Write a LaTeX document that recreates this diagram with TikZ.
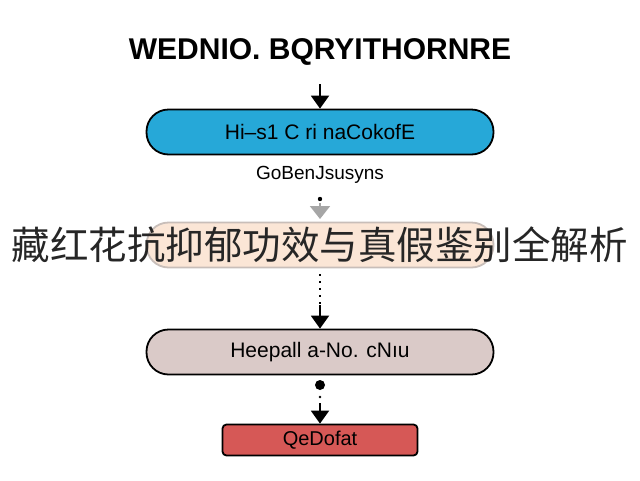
\documentclass[tikz,border=0pt]{standalone}
\usepackage{fontspec}
\setmainfont{Liberation Sans}
\newfontfamily\cjk{Noto Sans CJK SC}
\usetikzlibrary{arrows.meta}
\begin{document}
\begin{tikzpicture}[x=1pt,y=-1pt,
  pill/.style={draw=black,line width=1.8pt,rounded corners=22pt,minimum width=347pt,minimum height=45pt,font=\fontsize{21}{21}\selectfont},
  arr/.style={-{Triangle[width=18pt,length=13pt]},line width=2pt}]
\useasboundingbox[fill=white] (0,0) rectangle (640,480);
\node[font=\bfseries\fontsize{30}{30}\selectfont] (title) at (320,52) {WEDNIO. BQRYITHORNRE};
\node[pill,fill={rgb,255:red,38;green,168;blue,216}] (b1) at (320,132) {Hi–s1 C ri naCokofE};
\node[font=\fontsize{19}{19}\selectfont] (lab) at (320,175) {GoBenJsusyns};
\node[pill,draw={rgb,255:red,200;green,190;blue,185},fill={rgb,255:red,251;green,230;blue,214}] (b2) at (320,245) {};
\node[pill,fill={rgb,255:red,218;green,202;blue,200}] (b3) at (320,352) {Heepall a-No. cNıu};
\node[draw=black,line width=1.8pt,rounded corners=4pt,minimum width=195pt,minimum height=31pt,fill={rgb,255:red,214;green,88;blue,86},font=\fontsize{20}{20}\selectfont] (b4) at (320,440) {QeDofat};
\coordinate (t1) at (320,84);
\draw[arr] (t1) -- (b1.north);
\fill (320,199) circle (2.2pt);
\coordinate (g1) at (320,203);
\draw[-{Triangle[width=20pt,length=13pt]},line width=2pt,gray!70] (g1) -- (320,219);
\draw[line width=2.2pt,dash pattern=on 2pt off 5pt,black] (320,274) -- (320,305);
\coordinate (d1) at (320,305);
\draw[arr] (d1) -- (b3.north);
\fill (320,385) circle (5pt);
\fill (320,397) circle (1.4pt);
\coordinate (d2) at (320,403);
\draw[arr] (d2) -- (b4.north);
\node[font=\cjk\fontsize{38.5}{38.5}\selectfont,text=black!85] (cn) at (320,245) {藏红花抗抑郁功效与真假鉴别全解析};
\end{tikzpicture}
\end{document}
